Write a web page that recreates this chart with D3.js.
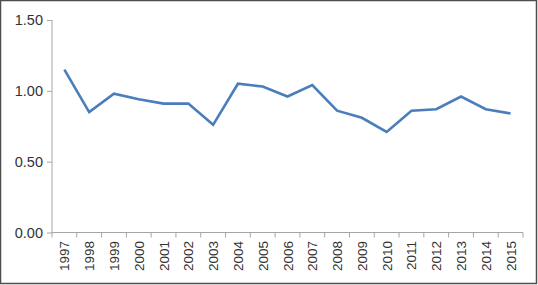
<!DOCTYPE html>
<meta charset="utf-8">
<script src="https://d3js.org/d3.v7.min.js"></script>
<style>
  body { margin: 0; background: #fff; }
  text { font-family: "Liberation Sans", Arial, sans-serif; fill: #333; }
</style>
<div id="chart"></div>
<script>
  // data
  var years = ["1997", "1998", "1999", "2000", "2001", "2002", "2003", "2004", "2005", "2006",
               "2007", "2008", "2009", "2010", "2011", "2012", "2013", "2014", "2015"]
  var values = [1.15, 0.85, 0.98, 0.94, 0.91, 0.91, 0.76, 1.05, 1.03, 0.96,
                1.04, 0.86, 0.81, 0.71, 0.86, 0.87, 0.96, 0.87, 0.84]
  var yTicks = [0, 0.5, 1.0, 1.5]

  var width = 538,
      height = 285
  var margin = {top: 20, right: 15, bottom: 52.5, left: 52}

  var svg = d3.select("#chart")
    .append("svg")
      .attr("width", width)
      .attr("height", height)

  // outer frame
  svg.append("rect")
    .attr("x", 0.5).attr("y", 0.5)
    .attr("width", width - 2).attr("height", height - 2)
    .attr("fill", "none")
    .attr("stroke", "#4d4d4d")
    .attr("stroke-width", 1.5)

  var x = d3.scaleBand()
    .domain(years)
    .range([margin.left, width - margin.right])

  var y = d3.scaleLinear()
    .domain([0, 1.5])
    .range([height - margin.bottom, margin.top])

  // y axis
  var yAxis = svg.append("g")
    .attr("transform", "translate(" + margin.left + ",0)")
    .call(d3.axisLeft(y).tickValues(yTicks).tickFormat(d3.format(".2f")).tickSize(5).tickPadding(4))
  yAxis.selectAll("text").style("font-size", "14.5px").attr("fill", "#333")

  // x axis with ticks on band edges
  var xAxis = svg.append("g")
    .attr("transform", "translate(0," + (height - margin.bottom) + ")")
  xAxis.append("line")
    .attr("x1", margin.left).attr("x2", width - margin.right)
    .attr("stroke", "#a6a6a6")
  xAxis.selectAll("line.tk")
    .data(years.concat(["end"]))
    .enter()
    .append("line")
      .attr("class", "tk")
      .attr("x1", function(d, i) { return margin.left + i * x.bandwidth() })
      .attr("x2", function(d, i) { return margin.left + i * x.bandwidth() })
      .attr("y1", 0).attr("y2", 5)
      .attr("stroke", "#a6a6a6")
  xAxis.selectAll("text")
    .data(years)
    .enter()
    .append("text")
      .text(function(d) { return d })
      .attr("transform", function(d) {
        return "translate(" + (x(d) + x.bandwidth() / 2 + 5) + ",8.5) rotate(-90)"
      })
      .attr("text-anchor", "end")
      .style("font-size", "13.5px")

  yAxis.selectAll("path, line").attr("stroke", "#a6a6a6")
  yAxis.select(".domain").attr("d", "M0," + y(1.5) + "V" + y(0))

  var line = d3.line()
    .x(function(d, i) { return x(years[i]) + x.bandwidth() / 2 })
    .y(function(d) { return y(d) })

  svg.append("path")
    .datum(values)
    .attr("d", line)
    .attr("fill", "none")
    .attr("stroke", "#4a7ebb")
    .attr("stroke-width", 2.6)
    .attr("stroke-linejoin", "miter")
</script>
